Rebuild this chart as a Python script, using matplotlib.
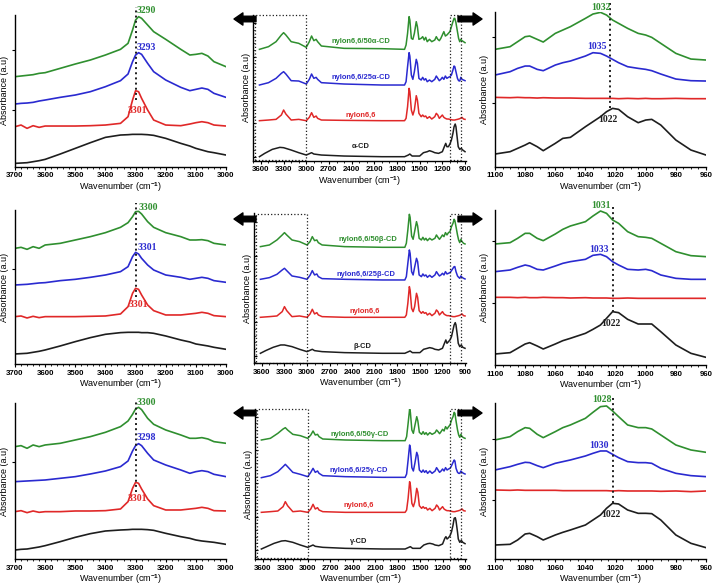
import matplotlib
matplotlib.use("Agg")
from matplotlib import pyplot as plt
from matplotlib.ticker import MultipleLocator, AutoMinorLocator

plt.rcParams['font.family'] = ['Liberation Sans', 'DejaVu Sans']
plt.rcParams['font.weight'] = 'bold'
plt.rcParams['mathtext.fontset'] = 'custom'
plt.rcParams['mathtext.rm'] = 'Liberation Sans:bold'
plt.rcParams['mathtext.default'] = 'rm'

# ---- wavenumber grids and tick labels ----
LEFT_WN = [3700, 3680, 3660, 3640, 3620, 3600, 3550, 3500, 3450, 3400, 3350, 3325, 3310,
           3300, 3290, 3280, 3260, 3240, 3200, 3150, 3120, 3100, 3080, 3060, 3040, 3000]
RIGHT_WN = [1100, 1090, 1085, 1080, 1077, 1072, 1068, 1060, 1055, 1050, 1040, 1035,
            1030, 1026, 1022, 1018, 1012, 1005, 1000, 996, 990, 980, 970, 960]
MID_WN = [3620, 3500, 3400, 3330, 3300, 3270, 3200, 3100, 3000, 2960, 2930, 2900, 2870,
          2850, 2800, 2500, 2000, 1700, 1680, 1660, 1640, 1630, 1610, 1590, 1570, 1545,
          1530, 1510, 1480, 1460, 1440, 1420, 1400, 1370, 1340, 1300, 1280, 1260, 1240,
          1220, 1200, 1180, 1160, 1140, 1120, 1100, 1080, 1060, 1045, 1035, 1020, 1000,
          985, 970, 955, 940, 920, 900]
CD_WN = [3620, 3550, 3450, 3350, 3300, 3200, 3100, 3000, 2930, 2900, 2800, 2500, 2000,
         1700, 1650, 1630, 1600, 1500, 1450, 1400, 1370, 1330, 1300, 1250, 1200, 1170,
         1155, 1140, 1120, 1100, 1080, 1060, 1045, 1030, 1020, 1000, 990, 970, 950, 930, 900]

LEFT_TICKS = [3700, 3600, 3500, 3400, 3300, 3200, 3100, 3000]
MID_TICKS = [3600, 3300, 3000, 2700, 2400, 2100, 1800, 1500, 1200, 900]
RIGHT_TICKS = [1100, 1080, 1060, 1040, 1020, 1000, 980, 960]

# ---- row 1 (alpha-CD) ----
L1_50 = [270, 272, 274, 276, 280, 282, 295, 308, 320, 335, 352, 370, 410, 440, 450, 445, 425,
         405, 382, 352, 335, 337, 340, 332, 315, 300]
L1_25 = [188, 190, 191, 193, 197, 200, 208, 215, 225, 240, 258, 278, 315, 335, 342, 337, 310,
         285, 260, 238, 228, 232, 236, 232, 220, 208]
L1_NY = [120, 125, 115, 123, 118, 122, 122, 122, 123, 125, 130, 150, 200, 228, 225, 205, 170,
         140, 125, 123, 128, 132, 135, 132, 125, 122]
L1_CD = [10, 11, 12, 15, 18, 22, 38, 55, 72, 88, 95, 96, 97, 97, 97, 97, 96, 94, 85, 70, 62,
         55, 50, 45, 42, 35]
M1_50 = [334, 342, 357, 377, 384, 377, 357, 352, 340, 357, 374, 360, 364, 357, 344, 337, 336,
         334, 347, 382, 432, 422, 367, 364, 382, 417, 402, 364, 367, 372, 362, 370, 357, 364,
         357, 362, 372, 364, 360, 367, 377, 387, 374, 377, 382, 387, 402, 417, 427, 427, 414,
         387, 367, 357, 364, 360, 357, 354]
M1_25 = [227, 234, 247, 262, 267, 260, 240, 239, 230, 244, 260, 247, 250, 244, 234, 230, 227,
         227, 237, 282, 324, 314, 257, 244, 267, 304, 292, 247, 242, 250, 242, 246, 237, 242,
         237, 244, 254, 247, 240, 244, 250, 244, 254, 247, 250, 252, 257, 272, 284, 282, 267,
         247, 240, 239, 250, 244, 242, 240]
M1_NY = [120, 122, 124, 137, 152, 140, 122, 124, 120, 130, 144, 130, 134, 127, 122, 121, 120,
         120, 127, 162, 217, 207, 152, 137, 152, 195, 182, 142, 132, 137, 132, 134, 127, 132,
         125, 132, 142, 137, 127, 132, 137, 130, 127, 125, 125, 124, 123, 122, 122, 122, 123,
         124, 125, 126, 128, 130, 125, 124]
M1_CD = [12, 22, 34, 40, 39, 32, 24, 17, 24, 20, 17, 14, 12, 12, 17, 20, 14, 14, 24, 27, 30,
         27, 24, 22, 27, 44, 52, 42, 42, 50, 62, 82, 102, 110, 102, 62, 42, 34, 37, 32, 27]
R1_50 = [352, 360, 375, 390, 392, 382, 374, 400, 410, 420, 445, 458, 463, 455, 440, 430, 415,
         400, 395, 388, 370, 340, 323, 320]
R1_25 = [275, 285, 295, 302, 302, 292, 288, 305, 312, 317, 332, 342, 340, 332, 322, 312, 300,
         295, 292, 288, 278, 263, 258, 257]
R1_NY = [208, 207, 208, 207, 207, 206, 207, 206, 206, 206, 205, 205, 205, 205, 205, 204, 205,
         204, 205, 204, 204, 205, 204, 204]
R1_CD = [38, 45, 55, 65, 72, 60, 48, 70, 85, 88, 120, 135, 150, 165, 175, 172, 150, 132, 140,
         142, 125, 80, 50, 35]

# ---- row 2 (beta-CD) ----
L2_50 = [348, 351, 345, 353, 348, 358, 363, 373, 383, 395, 411, 425, 443, 458, 459, 451, 428,
         411, 395, 383, 373, 373, 374, 371, 363, 358]
L2_25 = [238, 239, 240, 242, 244, 245, 251, 255, 261, 268, 278, 293, 323, 336, 331, 318, 298,
         283, 268, 261, 255, 258, 261, 258, 251, 246]
L2_NY = [143, 145, 139, 144, 140, 143, 143, 143, 144, 145, 151, 173, 213, 228, 225, 208, 178,
         161, 148, 148, 151, 153, 156, 153, 146, 143]
L2_CD = [31, 32, 33, 36, 39, 43, 55, 68, 80, 90, 95, 96, 96, 96, 96, 95, 95, 93, 85, 73, 67,
         61, 58, 55, 51, 45]
M2_50 = [350, 355, 370, 385, 392, 385, 370, 365, 355, 365, 380, 368, 370, 362, 355, 350, 348,
         348, 360, 400, 447, 438, 382, 372, 395, 425, 412, 375, 370, 378, 370, 375, 368, 375,
         370, 375, 385, 378, 372, 378, 385, 380, 392, 385, 392, 395, 410, 420, 432, 428, 410,
         385, 370, 362, 372, 365, 360, 358]
M2_25 = [252, 257, 267, 280, 285, 278, 262, 258, 252, 264, 278, 265, 268, 260, 254, 252, 250,
         250, 260, 300, 340, 330, 275, 265, 288, 315, 305, 265, 260, 268, 262, 265, 258, 264,
         258, 265, 275, 268, 262, 265, 270, 265, 275, 268, 270, 272, 278, 285, 290, 290, 275,
         262, 258, 255, 262, 258, 255, 253]
M2_NY = [138, 140, 142, 155, 170, 158, 140, 142, 138, 148, 162, 148, 152, 145, 140, 138, 138,
         138, 145, 180, 230, 220, 165, 155, 170, 210, 198, 158, 150, 155, 150, 152, 145, 150,
         143, 150, 160, 155, 145, 150, 155, 148, 145, 143, 143, 142, 141, 140, 140, 140, 141,
         142, 143, 144, 146, 148, 143, 142]
M2_CD = [30, 38, 48, 55, 55, 50, 42, 35, 42, 38, 35, 32, 30, 30, 35, 37, 32, 32, 42, 45, 47,
         45, 42, 40, 45, 62, 70, 60, 65, 70, 80, 100, 115, 122, 115, 80, 60, 50, 55, 48, 45]
R2_50 = [363, 367, 380, 395, 395, 380, 373, 393, 407, 417, 430, 447, 462, 455, 435, 425, 400,
         385, 383, 380, 365, 340, 328, 325]
R2_25 = [280, 285, 293, 300, 297, 287, 285, 297, 305, 310, 317, 329, 332, 325, 310, 300, 287,
         285, 287, 283, 270, 260, 257, 257]
R2_NY = [203, 203, 202, 203, 202, 202, 203, 202, 202, 201, 202, 201, 201, 201, 200, 200, 201,
         200, 200, 200, 200, 200, 200, 200]
R2_CD = [33, 37, 50, 63, 67, 57, 48, 63, 73, 80, 95, 107, 120, 140, 160, 157, 137, 123, 123,
         123, 100, 60, 35, 23]

# ---- row 3 (gamma-CD) ----
L3_50 = [337, 340, 332, 342, 337, 342, 347, 357, 367, 380, 397, 414, 434, 450, 455, 448, 422,
         404, 387, 372, 362, 362, 364, 360, 352, 347]
L3_25 = [232, 233, 234, 235, 236, 237, 242, 247, 255, 264, 277, 294, 324, 340, 346, 340, 317,
         297, 282, 267, 257, 262, 265, 262, 254, 247]
L3_NY = [142, 145, 139, 144, 140, 142, 142, 144, 144, 145, 150, 172, 212, 230, 227, 210, 180,
         160, 147, 147, 150, 152, 155, 152, 145, 144]
L3_CD = [27, 29, 30, 33, 36, 40, 52, 65, 76, 84, 87, 88, 89, 89, 89, 89, 88, 86, 77, 67, 62,
         57, 54, 52, 50, 44]
M3_50 = [357, 362, 377, 390, 394, 387, 374, 370, 362, 372, 384, 372, 374, 367, 360, 357, 355,
         355, 367, 407, 450, 440, 387, 377, 400, 427, 414, 380, 374, 382, 374, 379, 372, 379,
         374, 379, 387, 382, 376, 382, 389, 384, 397, 390, 397, 402, 417, 427, 440, 437, 414,
         387, 372, 365, 374, 367, 364, 362]
M3_25 = [244, 250, 262, 277, 284, 277, 260, 254, 247, 260, 272, 260, 264, 257, 250, 247, 245,
         245, 255, 297, 342, 332, 274, 264, 287, 320, 310, 267, 260, 267, 260, 265, 257, 264,
         257, 264, 274, 267, 260, 264, 270, 264, 274, 267, 270, 272, 280, 290, 297, 294, 272,
         260, 257, 257, 264, 260, 257, 255]
M3_NY = [140, 142, 144, 157, 172, 160, 142, 144, 140, 150, 164, 150, 154, 147, 142, 140, 140,
         140, 147, 182, 232, 222, 167, 157, 172, 212, 200, 160, 152, 157, 152, 154, 147, 152,
         145, 152, 162, 157, 147, 152, 157, 150, 147, 145, 145, 144, 143, 142, 142, 142, 143,
         144, 145, 146, 148, 150, 145, 144]
M3_CD = [30, 37, 47, 54, 55, 50, 42, 35, 42, 38, 35, 32, 30, 30, 35, 37, 32, 32, 42, 46, 47,
         45, 42, 40, 45, 62, 67, 60, 64, 70, 82, 102, 122, 124, 114, 80, 60, 50, 56, 50, 46]
R3_50 = [357, 367, 382, 394, 392, 374, 364, 382, 394, 402, 422, 440, 457, 459, 444, 427, 402,
         394, 394, 390, 372, 342, 327, 320]
R3_25 = [267, 277, 284, 290, 289, 280, 274, 287, 292, 297, 309, 317, 324, 324, 314, 304, 292,
         289, 289, 287, 272, 257, 250, 247]
R3_NY = [207, 206, 207, 206, 206, 206, 206, 206, 205, 205, 205, 205, 205, 205, 204, 205, 204,
         204, 204, 204, 203, 204, 202, 204]
R3_CD = [42, 44, 57, 75, 77, 67, 57, 72, 80, 87, 102, 117, 132, 152, 167, 165, 147, 137, 137,
         136, 117, 72, 47, 34]

# ---- labels ----
CD_NAMES = ['\u03b1-CD', '\u03b2-CD', '\u03b3-CD']
LEFT_PEAKS = [['3290', '3293', '3301'], ['3300', '3301', '3301'], ['3300', '3298', '3301']]
RIGHT_PEAKS = [['1032', '1035', '1022'], ['1031', '1033', '1022'], ['1028', '1030', '1022']]

GREEN = '#2f8f2f'
BLUE = '#2a2ad0'
RED = '#e02828'
BLACK = '#1e1e1e'
COLORS = [GREEN, BLUE, RED, BLACK]

W, H = 714, 586
fig = plt.figure(figsize=(W / 100, H / 100), dpi=100)


def px_axes(x0, x1, top, bottom):
    return fig.add_axes([x0 / W, 1 - bottom / H, (x1 - x0) / W, (bottom - top) / H])


def style_axes(ax, ticks, minor):
    for s in ['top', 'right']:
        ax.spines[s].set_visible(False)
    for s in ['left', 'bottom']:
        ax.spines[s].set_linewidth(1.0)
    ax.set_xticks(ticks)
    ax.set_xticklabels([str(t) for t in ticks])
    ax.xaxis.set_minor_locator(MultipleLocator(minor))
    ax.tick_params(axis='x', which='major', length=2.5, width=0.8, pad=1.5, labelsize=5.7)
    ax.tick_params(axis='x', which='minor', length=1.5, width=0.6)
    ax.tick_params(axis='y', which='both', labelleft=False, length=2.5, width=0.8)
    ax.set_xlabel('Wavenumber (cm$^{-1}$)', fontsize=6.5, labelpad=0.5)
    ax.set_ylabel('Absorbance (a.u)', fontsize=6.5, labelpad=1.5)


def peak_text(ax, x, y, s, c):
    ax.text(x, y, s, color=c, fontsize=7, family='Liberation Serif', weight='bold',
            ha='center', va='center', clip_on=False)


def draw_left(top, bottom, ymax, curves, yticks, names, pos, line):
    ax = px_axes(15, 226, top, bottom)
    for y, c in zip(curves, COLORS):
        ax.plot(LEFT_WN, y, color=c, lw=1.2)
    ax.set_xlim(3700, 3000)
    ax.set_ylim(0, ymax)
    style_axes(ax, LEFT_TICKS, 20)
    ax.set_yticks(yticks)
    ax.plot([3300, 3300], line, ls=':', color=BLACK, lw=1.4, clip_on=False)
    for s, (x, y), c in zip(names, pos, [GREEN, BLUE, RED]):
        peak_text(ax, x, y, s, c)


def draw_right(top, bottom, ymax, curves, yticks, names, pos, line_x, line):
    ax = px_axes(495, 706, top, bottom)
    for y, c in zip(curves, COLORS):
        ax.plot(RIGHT_WN, y, color=c, lw=1.2)
    ax.set_xlim(1100, 960)
    ax.set_ylim(0, ymax)
    style_axes(ax, RIGHT_TICKS, 5)
    ax.set_yticks(yticks)
    ax.plot([line_x, line_x], line, ls=':', color=BLACK, lw=1.4, clip_on=False)
    for s, (x, y), c in zip(names, pos, [GREEN, BLUE, BLACK]):
        peak_text(ax, x, y, s, c)


def draw_mid(x0, top, bottom, ymax, curves, base, names, pos, arrow_y):
    ax = px_axes(x0, 466, top, bottom)
    grids = [MID_WN, MID_WN, MID_WN, CD_WN]
    for wn, y, c in zip(grids, curves, COLORS):
        ax.plot(wn, y, color=c, lw=1.1)
    ax.set_xlim(3705, 887)
    ax.set_ylim(0, ymax)
    style_axes(ax, MID_TICKS, 100)
    ax.set_yticks(list(range(base, int(ymax), 100)))
    ax.yaxis.set_minor_locator(AutoMinorLocator(5))
    ax.tick_params(axis='y', which='both', direction='in')
    ax.tick_params(axis='y', which='minor', length=1.5, width=0.5)
    # dotted boxes marking the zoomed regions
    ax.plot([3680, 3000, 3000, 3680, 3680], [2, 2, ymax - 1, ymax - 1, 2],
            ls=':', color=BLACK, lw=0.9, clip_on=False)
    ax.plot([1100, 955, 955, 1100, 1100], [2, 2, ymax - 1, ymax - 1, 2],
            ls=':', color=BLACK, lw=0.9, clip_on=False)
    for s, (x, y), c in zip(names, pos, COLORS):
        ax.text(x, y, s, color=c, fontsize=5.4, weight='bold', ha='center', va='center')
    arrow = dict(arrowstyle='simple,head_length=0.8,head_width=1.1,tail_width=0.5',
                 color='black', shrinkA=0, shrinkB=0, mutation_scale=8)
    ax.annotate('', xy=(234, arrow_y), xytext=(256, arrow_y), xycoords='figure pixels',
                textcoords='figure pixels', arrowprops=arrow, annotation_clip=False)
    ax.annotate('', xy=(482, arrow_y), xytext=(458, arrow_y), xycoords='figure pixels',
                textcoords='figure pixels', arrowprops=arrow, annotation_clip=False)


rows = [
    dict(left=(15, 166.7, 455, [L1_50, L1_25, L1_NY, L1_CD], [170, 350],
               [(3264, 468), (3266, 358), (3294, 168)], [200, 478]),
         mid=(253, 15, 160.7, 437, [M1_50, M1_25, M1_NY, M1_CD], 12,
              [(2282, 357), (2282, 250), (2282, 137), (2282, 42)], 567),
         right=(11.7, 166.7, 465, [R1_50, R1_25, R1_NY, R1_CD], [192, 390],
                [(1030, 478), (1032.5, 360), (1025, 142)], 1023.5, [175, 490])),
    dict(left=(210, 364.3, 463, [L2_50, L2_25, L2_NY, L2_CD], [286],
               [(3259, 471), (3260, 351), (3292, 178)], [203, 483]),
         mid=(254, 213.3, 363.3, 450, [M2_50, M2_25, M2_NY, M2_CD], 23,
              [(2193, 370), (2215, 265), (2238, 155), (2260, 50)], 367),
         right=(210, 365, 465, [R2_50, R2_25, R2_NY, R2_CD], [185, 373],
                [(1029.7, 477), (1031, 345), (1023, 123)], 1021.5, [160, 475])),
    dict(left=(403.3, 559, 467, [L3_50, L3_25, L3_NY, L3_CD], [292],
               [(3263, 470), (3265, 365), (3294, 182)], [202, 477]),
         mid=(255, 409, 559, 450, [M3_50, M3_25, M3_NY, M3_CD], 27,
              [(2304, 372), (2326, 267), (2326, 160), (2326, 52)], 173),
         right=(403.3, 559, 467, [R3_50, R3_25, R3_NY, R3_CD], [177, 360],
                [(1029, 477), (1031, 340), (1023, 134)], 1021.5, [167, 482])),
]

for i, r in enumerate(rows):
    suffix = CD_NAMES[i]
    top, bottom, ymax, curves, yt, pos, line = r['left']
    draw_left(top, bottom, ymax, curves, yt, LEFT_PEAKS[i], pos, line)

    x0, top, bottom, ymax, curves, base, pos, ay = r['mid']
    names = ['nylon6,6/50' + suffix, 'nylon6,6/25' + suffix, 'nylon6,6', suffix]
    draw_mid(x0, top, bottom, ymax, curves, base, names, pos, ay)

    top, bottom, ymax, curves, yt, pos, lx, line = r['right']
    draw_right(top, bottom, ymax, curves, yt, RIGHT_PEAKS[i], pos, lx, line)

fig.savefig('out.png', dpi=100)
